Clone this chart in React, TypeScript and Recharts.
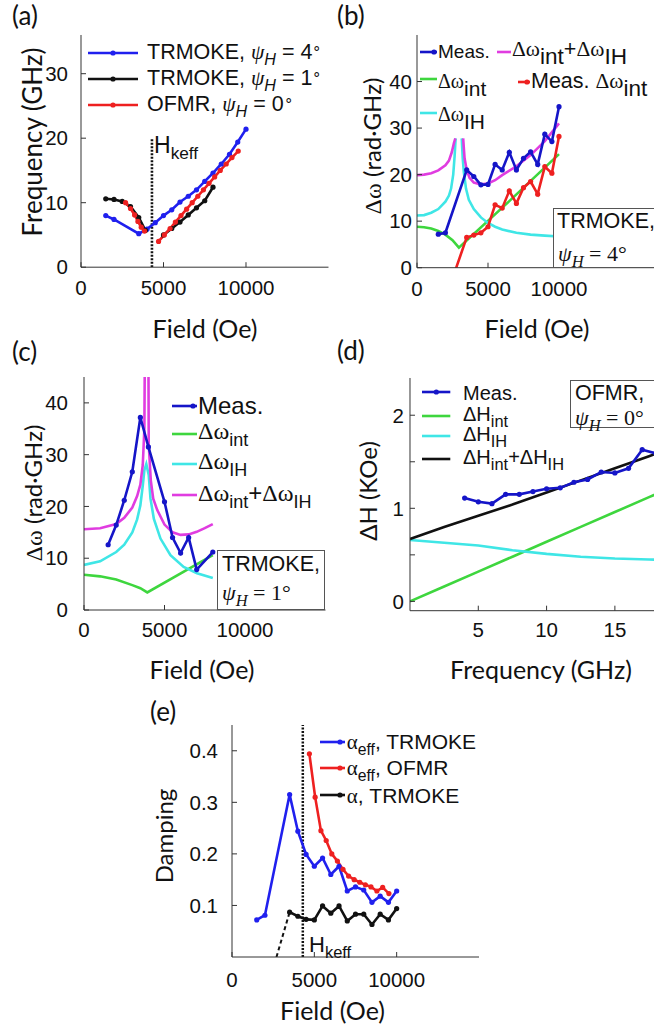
import React from 'react';
import { Line, LineChart, ReferenceLine, XAxis, YAxis } from 'recharts';

// ---- shared field / frequency grids ----
const trmoke4Field = [1500, 2000, 3500, 4000, 4500, 5000, 5500, 6000, 6500, 7000, 7500, 8000, 8500, 9000, 9500, 10000];
const ofmrFreq = [4, 5, 6, 7, 8, 9, 10, 11, 12, 13, 14, 15, 16, 17, 18];
const ofmrField = [4700, 5050, 5400, 5720, 6060, 6400, 6740, 7080, 7420, 7760, 8100, 8440, 8800, 9150, 9530];
const hkeffField = 4300;

// ---- (a) frequency vs field ----
const aTrmoke4Freq = [8.0, 7.4, 5.2, 5.9, 6.9, 8.0, 8.9, 10.1, 11.0, 12.0, 13.3, 14.6, 16.0, 17.5, 19.4, 21.4];
const aTrmoke1Field = [1500, 2000, 2500, 3000, 3500, 3900, 4450, 5000, 5500, 6000, 6500, 7000, 7500, 8000];
const aTrmoke1Freq = [10.6, 10.5, 10.2, 9.4, 7.7, 5.7, null, 5.0, 6.0, 7.0, 8.1, 9.2, 10.3, 12.4];
const aOfmrLowField = [2700, 3000, 3250, 3450, 3650, 3850];
const aOfmrLowFreq = [10.0, 9.1, 8.1, 7.1, 6.2, 5.6];
const aHkeffFreq = [0, 20];

// ---- (b) linewidth, TRMOKE psi_H = 4 ----
const bMeas = [7.2, 7.5, 21.0, 19.6, 17.8, 17.9, 22.2, 21.0, 24.8, 21.0, 23.5, 24.9, 22.2, 28.7, 27.1, 34.6];
const bMeasInt = [-5.4, -6.7, 6.5, 7.0, 7.5, 8.8, 13.5, 12.8, 16.5, 13.8, 17.2, 18.5, 15.8, 21.7, 20.3, 28.2];
const bIntField = [0, 500, 1000, 1500, 2000, 2500, 2950, 6500, 10000];
const bInt = [8.8, 8.7, 8.4, 7.9, 7.1, 5.9, 4.3, 14.3, 24.4];
const bIHField = [0, 500, 1000, 1500, 2000, 2250, 2400, 2550, 2650, 2720, 2935, 3150, 3220, 3300, 3450, 3650, 4000, 4500, 5000, 5500, 6000, 7000, 8000, 9000, 10000];
const bIH = [11.2, 11.3, 11.8, 12.6, 14.2, 15.5, 17.0, 20.0, 24.0, 27.8, null, 27.8, 23.5, 20.5, 17.0, 14.6, 12.6, 10.8, 9.6, 8.8, 8.2, 7.5, 7.1, 6.9, 6.7];
const bSumField = [0, 500, 1000, 1500, 2000, 2250, 2450, 2600, 2700, 2975, 3250, 3350, 3500, 3700, 4000, 4500, 5000, 5500, 6000, 7000, 8000, 9000, 10000];
const bSum = [19.9, 20.0, 20.3, 20.9, 22.0, 23.0, 24.8, 26.8, 27.8, null, 27.8, 23.5, 21.0, 19.3, 18.3, 17.9, 18.1, 18.8, 19.9, 21.8, 24.2, 27.2, 31.0];

// ---- (c) linewidth, TRMOKE psi_H = 1 ----
const cField = [1500, 2000, 2500, 3000, 3500, 4000, 5000, 5500, 6000, 6500, 7000, 8000];
const cMeas = [12.6, 16.4, 21.2, 26.7, 37.2, 31.5, 20.9, 14.0, 11.0, 14.0, 7.8, 11.2];
const cIntField = [0, 1000, 2000, 3000, 3500, 3930, 8000];
const cInt = [6.8, 6.5, 5.9, 4.8, 4.2, 3.4, 10.6];
const cIHField = [0, 1000, 2000, 2500, 3000, 3300, 3500, 3650, 3750, 3870, 4020, 4130, 4340, 4750, 5370, 6190, 7020, 8000];
const cIH = [8.7, 9.4, 11.2, 12.6, 15.0, 17.5, 20.2, 24.0, 27.0, 28.2, 26.1, 21.5, 17.6, 13.8, 10.6, 8.3, 7.1, 6.2];
const cSumField = [0, 1000, 2000, 2500, 3000, 3300, 3500, 3650, 3750, 3800, 3990, 4020, 4150, 4300, 4550, 5000, 5500, 6000, 6500, 7000, 7500, 8000];
const cSum = [15.6, 15.8, 16.6, 17.8, 19.8, 22.0, 24.2, 28.0, 35.0, 60, 60, 32.0, 25.0, 21.5, 19.3, 16.5, 15.0, 14.5, 14.6, 15.1, 15.8, 16.6];

// ---- (d) OFMR linewidth vs frequency ----
const dMeas = [1.11, 1.07, 1.05, 1.15, 1.15, 1.18, 1.21, 1.22, 1.28, 1.31, 1.39, 1.38, 1.43, 1.63, 1.59];
const dModelFreq = [0, 2.5, 5, 7.5, 10, 12.5, 15, 17.5, 20];
const dInt = [0.0, 0.16, 0.32, 0.48, 0.64, 0.8, 0.96, 1.12, 1.28];
const dIH = [0.66, 0.63, 0.6, 0.55, 0.51, 0.48, 0.46, 0.45, 0.44];
const dSum = [0.67, 0.8, 0.92, 1.04, 1.17, 1.3, 1.43, 1.56, 1.69];

// ---- (e) damping ----
const eTrmokeEff = [0.072, 0.081, 0.315, 0.244, 0.199, 0.176, 0.192, 0.16, 0.176, 0.128, 0.136, 0.13, 0.106, 0.118, 0.106, 0.128];
const eOfmrEff = [0.394, 0.31, 0.245, 0.226, 0.2, 0.186, 0.17, 0.157, 0.15, 0.145, 0.14, 0.136, 0.128, 0.135, 0.123];
const eAlphaField = [3500, 4000, 4500, 5000, 5500, 6000, 6500, 7000, 7500, 8000, 8500, 9000, 9500, 10000];
const eAlpha = [0.087, 0.079, 0.073, 0.072, 0.099, 0.085, 0.099, 0.07, 0.083, 0.083, 0.063, 0.083, 0.072, 0.094];
const eExtrapField = [2700, 3500];
const eExtrap = [0, 0.087];

type Pt = { x: number; y: number | null };
const zip = (xs: number[], ys: (number | null)[]): Pt[] => xs.map((x, i) => ({ x, y: ys[i] }));

const BLUE = '#2020ee';
const DBLUE = '#1515c8';
const RED = '#ee2020';
const BLACK = '#111';
const GREEN = '#3ed63e';
const CYAN = '#3fe6e6';
const MAGENTA = '#e03ce0';

const SANS = '"Liberation Sans", Arial, sans-serif';
const SERIF = '"Liberation Serif", "Times New Roman", serif';
const LABEL = 'Lato, "Open Sans", sans-serif';

type Series = { data: Pt[]; color: string; dot?: boolean; dash?: string; width?: number };

type PanelProps = {
  box: [number, number, number, number];
  xDomain: [number, number];
  yDomain: [number, number];
  xTicks: number[];
  yTicks: number[];
  yFmt?: (v: number) => string;
  xGap: number;
  yGap: number;
  series: Series[];
  refX?: number;
};

const PAD_L = 80;
const PAD_T = 4;
const PAD_R = 4;
const PAD_B = 44;
const TICK = 5;

function Panel({ box, xDomain, yDomain, xTicks, yTicks, yFmt, xGap, yGap, series, refX }: PanelProps) {
  const [l, t, r, b] = box;
  const tickStyle = { fill: '#111', fontSize: 20.5, fontFamily: SANS };
  return (
    <div style={{ position: 'absolute', left: l - PAD_L, top: t - PAD_T }}>
      <LineChart width={r - l + PAD_L + PAD_R} height={b - t + PAD_T + PAD_B} margin={{ top: PAD_T, right: PAD_R, bottom: 0, left: 0 }}>
        <XAxis dataKey="x" type="number" domain={xDomain} ticks={xTicks} interval={0} allowDataOverflow height={PAD_B}
          stroke="#333" tickSize={-TICK} tickMargin={TICK + xGap} tick={tickStyle} />
        <XAxis xAxisId="top" orientation="top" dataKey="x" type="number" domain={xDomain} ticks={xTicks} interval={0}
          allowDataOverflow height={0} stroke="#333" tickSize={-TICK} tick={false} />
        <YAxis type="number" domain={yDomain} ticks={yTicks} interval={0} allowDataOverflow width={PAD_L}
          stroke="#333" tickSize={-TICK} tickMargin={TICK + yGap} tick={tickStyle} tickFormatter={yFmt} />
        <YAxis yAxisId="right" orientation="right" type="number" domain={yDomain} ticks={yTicks} interval={0}
          allowDataOverflow width={0} stroke="#333" tickSize={-TICK} tick={false} />
        {refX !== undefined && <ReferenceLine x={refX} stroke={BLACK} strokeWidth={2.5} strokeDasharray="2 1.5" />}
        {series.map((s, i) => (
          <Line key={i} data={s.data} dataKey="y" type="linear" stroke={s.color} strokeWidth={s.width ?? 2.6}
            strokeDasharray={s.dash} dot={s.dot ? { r: 2.6, fill: s.color, stroke: s.color, strokeWidth: 0 } : false}
            activeDot={false} connectNulls={false} isAnimationActive={false} />
        ))}
      </LineChart>
    </div>
  );
}

type TxtProps = { x: number; y: number; size: number; font?: string; center?: boolean; children: React.ReactNode };
function Txt({ x, y, size, font = SANS, center, children }: TxtProps) {
  return (
    <div style={{ position: 'absolute', left: x, top: y - size * 0.49, fontSize: size, lineHeight: 1, fontFamily: font,
      whiteSpace: 'nowrap', color: '#111', transform: center ? 'translateX(-50%)' : undefined }}>
      {children}
    </div>
  );
}

function VLabel({ x, y, size, children }: { x: number; y: number; size: number; children: React.ReactNode }) {
  return (
    <div style={{ position: 'absolute', left: x, top: y, transform: 'translate(-50%, -50%) rotate(-90deg)', fontSize: size,
      lineHeight: 1, fontFamily: LABEL, whiteSpace: 'nowrap', color: '#111' }}>
      {children}
    </div>
  );
}

const Sub = ({ children, font = SANS, s = 0.75 }: { children: React.ReactNode; font?: string; s?: number }) => (
  <span style={{ position: 'relative', top: '0.35em', fontSize: `${s}em`, fontFamily: font }}>{children}</span>
);
const Gr = ({ children }: { children: React.ReactNode }) => <span style={{ fontFamily: SERIF }}>{children}</span>;
const Psi = ({ v }: { v: string }) => (
  <span style={{ fontFamily: SERIF }}>
    <i>ψ</i><Sub font={SERIF}><i>H</i></Sub> = {v}°
  </span>
);
const PsiLeg = ({ v }: { v: string }) => (
  <>
    <i style={{ fontFamily: SERIF }}>ψ</i><Sub><i>H</i></Sub> = {v}
    <span style={{ position: 'relative', top: '-0.45em', fontSize: '0.7em' }}>∘</span>
  </>
);

function Sample({ x1, x2, y, color, dotX }: { x1: number; x2: number; y: number; color: string; dotX?: number }) {
  return (
    <svg style={{ position: 'absolute', left: x1, top: y - 5, overflow: 'visible' }} width={x2 - x1} height={10}>
      <line x1={0} y1={5} x2={x2 - x1} y2={5} stroke={color} strokeWidth={2.6} />
      {dotX !== undefined && <circle cx={dotX - x1} cy={5} r={2.6} fill={color} />}
    </svg>
  );
}

function Box({ l, t, w, h }: { l: number; t: number; w: number; h: number }) {
  return <div style={{ position: 'absolute', left: l, top: t, width: w, height: h, border: '1px solid #555', background: '#fff', boxSizing: 'border-box' }} />;
}

export default function App() {
  const fieldTicks = [0, 5000, 10000];
  return (
    <div style={{ position: 'absolute', left: 0, top: 0, width: 654, height: 1027, overflow: 'hidden', background: '#fff' }}>
      {/* (a) */}
      <Panel box={[81, 34.5, 328.5, 266.7]} xDomain={[0, 15000]} yDomain={[0, 36]} xTicks={fieldTicks} yTicks={[0, 10, 20, 30]}
        xGap={13} yGap={13}
        series={[
          { data: zip([hkeffField, hkeffField], aHkeffFreq), color: BLACK, dash: '2 1.5' },
          { data: zip(trmoke4Field, aTrmoke4Freq), color: BLUE, dot: true },
          { data: zip(aTrmoke1Field, aTrmoke1Freq), color: BLACK, dot: true },
          { data: zip(aOfmrLowField, aOfmrLowFreq), color: RED, dot: true },
          { data: zip(ofmrField, ofmrFreq), color: RED, dot: true },
        ]} />
      {/* (b) */}
      <Panel box={[417, 35, 701, 267.7]} xDomain={[0, 20000]} yDomain={[0, 50]} xTicks={fieldTicks} yTicks={[0, 10, 20, 30, 40]}
        xGap={14} yGap={5}
        series={[
          { data: zip(bIntField, bInt), color: GREEN },
          { data: zip(bIHField, bIH), color: CYAN },
          { data: zip(bSumField, bSum), color: MAGENTA },
          { data: zip(trmoke4Field, bMeas), color: DBLUE, dot: true },
          { data: zip(trmoke4Field, bMeasInt), color: RED, dot: true },
        ]} />
      {/* (c) */}
      <Panel box={[84, 377, 325.5, 610]} xDomain={[0, 15000]} yDomain={[0, 45]} xTicks={fieldTicks} yTicks={[0, 10, 20, 30, 40]}
        xGap={12} yGap={16}
        series={[
          { data: zip(cIntField, cInt), color: GREEN },
          { data: zip(cIHField, cIH), color: CYAN },
          { data: zip(cSumField, cSum), color: MAGENTA },
          { data: zip(cField, cMeas), color: DBLUE, dot: true },
        ]} />
      {/* (d) */}
      <Panel box={[409.5, 378.3, 682.7, 611]} xDomain={[0, 20]} yDomain={[-0.1, 2.4]} xTicks={[5, 10, 15]} yTicks={[0, 0.5, 1, 1.5, 2]}
        yFmt={(v) => (Number.isInteger(v) ? String(v) : '')} xGap={12} yGap={6}
        series={[
          { data: zip(dModelFreq, dInt), color: GREEN },
          { data: zip(dModelFreq, dIH), color: CYAN },
          { data: zip(dModelFreq, dSum), color: BLACK },
          { data: zip(ofmrFreq, dMeas), color: DBLUE, dot: true },
        ]} />
      {/* (e) */}
      <Panel box={[232.3, 725, 479.3, 957]} xDomain={[0, 15000]} yDomain={[0, 0.45]} xTicks={fieldTicks} yTicks={[0.1, 0.2, 0.3, 0.4]}
        xGap={15} yGap={14} refX={hkeffField}
        series={[
          { data: zip(eExtrapField, eExtrap), color: BLACK, dash: '4 3', width: 2 },
          { data: zip(trmoke4Field, eTrmokeEff), color: BLUE, dot: true },
          { data: zip(ofmrField, eOfmrEff), color: RED, dot: true },
          { data: zip(eAlphaField, eAlpha), color: BLACK, dot: true },
        ]} />

      {/* panel letters */}
      <Txt x={12} y={15} size={26} font={LABEL}>(a)</Txt>
      <Txt x={337} y={15} size={26} font={LABEL}>(b)</Txt>
      <Txt x={12} y={351} size={26} font={LABEL}>(c)</Txt>
      <Txt x={337} y={350} size={26} font={LABEL}>(d)</Txt>
      <Txt x={150} y={711} size={26} font={LABEL}>(e)</Txt>

      {/* axis titles */}
      <VLabel x={31.7} y={141.5} size={26}>Frequency (GHz)</VLabel>
      <VLabel x={371.7} y={146} size={24}><Gr>Δω</Gr> (rad·GHz)</VLabel>
      <VLabel x={33} y={493} size={24}><Gr>Δω</Gr> (rad·GHz)</VLabel>
      <VLabel x={368} y={491} size={24}>ΔH (KOe)</VLabel>
      <VLabel x={164} y={836} size={24}>Damping</VLabel>
      <Txt x={205} y={328} size={25} font={LABEL} center>Field (Oe)</Txt>
      <Txt x={537} y={328} size={25} font={LABEL} center>Field (Oe)</Txt>
      <Txt x={202} y={669} size={25} font={LABEL} center>Field (Oe)</Txt>
      <Txt x={541} y={669} size={25} font={LABEL} center>Frequency (GHz)</Txt>
      <Txt x={332.5} y={1010} size={25} font={LABEL} center>Field (Oe)</Txt>

      {/* (a) legend + Hkeff */}
      <Sample x1={88} x2={138} y={53} color={BLUE} dotX={113} />
      <Txt x={147} y={53} size={21.5}>TRMOKE, <PsiLeg v="4" /></Txt>
      <Sample x1={88} x2={138} y={79} color={BLACK} dotX={113} />
      <Txt x={147} y={79} size={21.5}>TRMOKE, <PsiLeg v="1" /></Txt>
      <Sample x1={88} x2={138} y={105} color={RED} dotX={113} />
      <Txt x={147} y={105} size={21.5}>OFMR, <PsiLeg v="0" /></Txt>
      <Txt x={154} y={145} size={23}>H<Sub>keff</Sub></Txt>

      {/* (b) legend */}
      <Sample x1={420} x2={437} y={51.7} color={DBLUE} dotX={434} />
      <Txt x={438} y={51.7} size={19}>Meas.</Txt>
      <Sample x1={420} x2={437} y={79.3} color={GREEN} />
      <Txt x={438} y={80} size={20}><Gr>Δω</Gr><Sub s={1.05}>int</Sub></Txt>
      <Sample x1={420} x2={437} y={113.3} color={CYAN} />
      <Txt x={438} y={113} size={20}><Gr>Δω</Gr><Sub s={1.05}>IH</Sub></Txt>
      <Sample x1={497} x2={511} y={51.7} color={MAGENTA} />
      <Txt x={512} y={49} size={21.5}><Gr>Δω</Gr><Sub s={1.05}>int</Sub>+<Gr>Δω</Gr><Sub s={1.05}>IH</Sub></Txt>
      <Sample x1={518} x2={530} y={81.7} color={RED} dotX={527} />
      <Txt x={531} y={81} size={21.5}>Meas. <Gr>Δω</Gr><Sub s={1.05}>int</Sub></Txt>
      <Box l={553.3} t={208.3} w={120} h={59.4} />
      <Txt x={557} y={221.7} size={21.5}>TRMOKE,</Txt>
      <Txt x={558} y={254} size={22} font={SERIF}><Psi v="4" /></Txt>

      {/* (c) legend */}
      <Sample x1={172} x2={197} y={405.5} color={DBLUE} dotX={193} />
      <Txt x={198} y={405.5} size={24}>Meas.</Txt>
      <Sample x1={172} x2={197} y={434} color={GREEN} />
      <Txt x={198} y={431} size={24}><Gr>Δω</Gr><Sub>int</Sub></Txt>
      <Sample x1={172} x2={197} y={464} color={CYAN} />
      <Txt x={198} y={461} size={24}><Gr>Δω</Gr><Sub>IH</Sub></Txt>
      <Sample x1={172} x2={197} y={495} color={MAGENTA} />
      <Txt x={198} y={493} size={24}><Gr>Δω</Gr><Sub>int</Sub>+<Gr>Δω</Gr><Sub>IH</Sub></Txt>
      <Box l={217.3} t={550} w={108.2} h={60} />
      <Txt x={222} y={565} size={21.5}>TRMOKE,</Txt>
      <Txt x={222} y={593} size={22} font={SERIF}><Psi v="1" /></Txt>

      {/* (d) legend */}
      <Sample x1={421.7} x2={450} y={391.7} color={DBLUE} dotX={436} />
      <Txt x={463} y={393} size={20}>Meas.</Txt>
      <Sample x1={421.7} x2={450} y={416} color={GREEN} />
      <Txt x={463} y={414} size={20}>ΔH<Sub s={0.82}>int</Sub></Txt>
      <Sample x1={421.7} x2={450} y={436} color={CYAN} />
      <Txt x={463} y={434} size={20}>ΔH<Sub s={0.82}>IH</Sub></Txt>
      <Sample x1={421.7} x2={450} y={459.3} color={BLACK} />
      <Txt x={463} y={457} size={20}>ΔH<Sub s={0.82}>int</Sub>+ΔH<Sub s={0.82}>IH</Sub></Txt>
      <Box l={570} t={380} w={100} h={47.7} />
      <Txt x={575} y={393.3} size={21.5}>OFMR,</Txt>
      <Txt x={575} y={417.7} size={22} font={SERIF}><Psi v="0" /></Txt>

      {/* (e) legend + Hkeff */}
      <Sample x1={320} x2={345} y={741.7} color={BLUE} dotX={340} />
      <Txt x={346.7} y={741.7} size={21}><Gr>α</Gr><Sub>eff</Sub>, TRMOKE</Txt>
      <Sample x1={320} x2={345} y={767.7} color={RED} dotX={340} />
      <Txt x={346.7} y={767.7} size={21}><Gr>α</Gr><Sub>eff</Sub>, OFMR</Txt>
      <Sample x1={320} x2={345} y={795} color={BLACK} dotX={340} />
      <Txt x={346.7} y={795} size={21}><Gr>α</Gr>, TRMOKE</Txt>
      <Txt x={309} y={945} size={22}>H<Sub>keff</Sub></Txt>
    </div>
  );
}
